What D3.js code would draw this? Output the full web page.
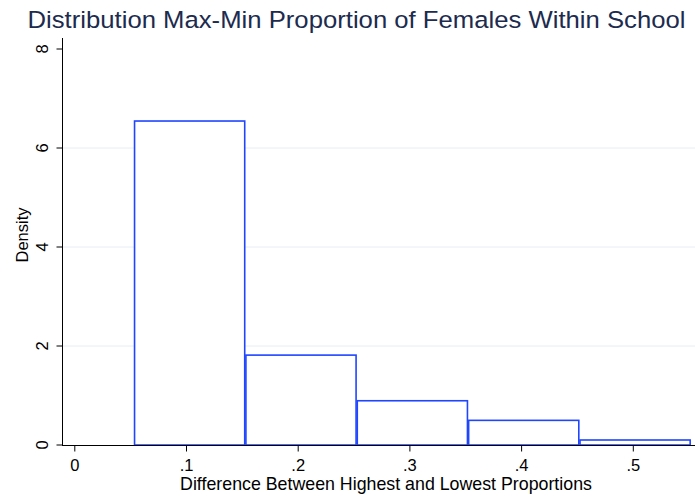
<!DOCTYPE html>
<html><head><meta charset="utf-8">
<script src="https://cdn.jsdelivr.net/npm/d3@7"></script>
<style>body{margin:0;background:#fff}svg{display:block}text{font-family:"Liberation Sans",Arial,Helvetica,sans-serif}</style>
</head><body><svg id="c" width="695" height="498"></svg>
<script>
const binStart = 0.0534;
const binWidth = 0.0997;
const densities = [6.545, 1.816, 0.894, 0.498, 0.101];
const xTicks = [0, 0.1, 0.2, 0.3, 0.4, 0.5];
const xTickLabels = ["0", ".1", ".2", ".3", ".4", ".5"];
const yTicks = [0, 2, 4, 6, 8];
const gridTicks = [2, 4, 6];
const title = "Distribution Max-Min Proportion of Females Within School";
const xTitle = "Difference Between Highest and Lowest Proportions";
const yTitle = "Density";

const bins = densities.map((d, i) => ({x0: binStart + i * binWidth, x1: binStart + (i + 1) * binWidth, d}));

const svg = d3.select("#c");
const x = d3.scaleLinear().domain([0, 0.5]).range([74.3, 632.8]);
const y = d3.scaleLinear().domain([0, 8]).range([445, 49]);

// gridlines
svg.append("g").selectAll("line").data(gridTicks).join("line")
  .attr("x1", 63).attr("x2", 695)
  .attr("y1", d => y(d)).attr("y2", d => y(d))
  .attr("stroke", "#e6eef2").attr("stroke-width", 1);

// bars
svg.append("g").selectAll("rect").data(bins).join("rect")
  .attr("x", d => x(d.x0) + 0.6)
  .attr("width", d => x(d.x1) - x(d.x0) - 1.2)
  .attr("y", d => y(d.d))
  .attr("height", d => y(0) - y(d.d))
  .attr("fill", "#fff")
  .attr("stroke", "#1f45ff")
  .attr("stroke-width", 1.6);

// y axis
const yAxis = d3.axisLeft(y).tickValues(yTicks).tickFormat(d3.format("d")).tickSize(6).tickPadding(0);
const gy = svg.append("g").attr("transform", "translate(62.5,0)").call(yAxis);
gy.select(".domain").attr("d", "M0,38V445.5").attr("stroke", "#000");
gy.selectAll(".tick").attr("transform", "translate(0,0)");
gy.selectAll(".tick line").attr("stroke", "#000").attr("y1", d => y(d)).attr("y2", d => y(d));
gy.selectAll(".tick text")
  .attr("x", null).attr("y", null).attr("dx", null).attr("dy", null)
  .attr("text-anchor", "middle")
  .attr("font-size", 16.5)
  .attr("fill", "#000")
  .attr("transform", d => `translate(-14.5,${y(d)}) rotate(-90)`);

// x axis
const xAxis = d3.axisBottom(x).tickValues(xTicks).tickFormat((d, i) => xTickLabels[i]).tickSize(6.5).tickPadding(4);
const gx = svg.append("g").attr("transform", "translate(0,445)").call(xAxis);
gx.select(".domain").attr("d", "M62,0.5H695").attr("stroke", "#000");
gx.selectAll(".tick line").attr("stroke", "#000");
gx.selectAll(".tick text").attr("font-size", 16.5).attr("fill", "#000").attr("dy", "0.95em");

// titles
svg.append("text").attr("x", 356.5).attr("y", 27.5).attr("text-anchor", "middle")
  .attr("font-size", 24.5).attr("fill", "#1c2b4e")
  .attr("textLength", 658).attr("lengthAdjust", "spacingAndGlyphs").text(title);
svg.append("text").attr("x", 386).attr("y", 490).attr("text-anchor", "middle")
  .attr("font-size", 17.8).attr("fill", "#000").text(xTitle);
svg.append("text").attr("transform", "translate(28,235) rotate(-90)").attr("text-anchor", "middle")
  .attr("font-size", 16.5).attr("fill", "#000").text(yTitle);
</script></body></html>
